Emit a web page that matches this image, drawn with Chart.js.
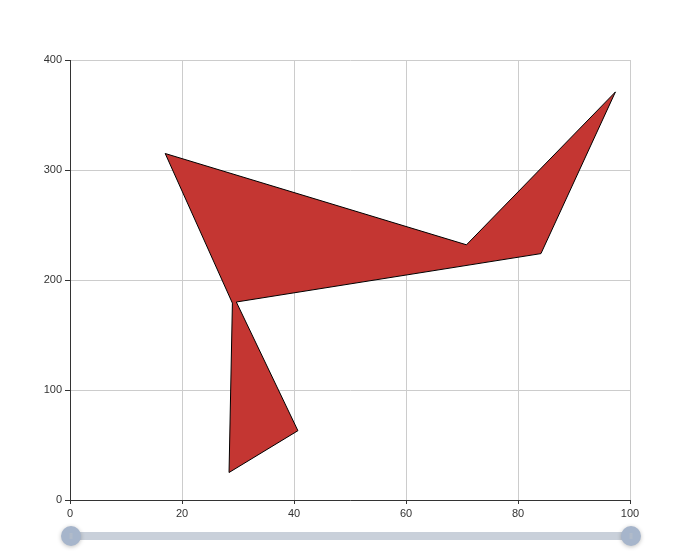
<!DOCTYPE html>
<html lang="en">
<head>
    <meta charset="UTF-8">
    <title>Polygon</title>
    <style>
        html, body { margin: 0; padding: 0; background: #fff; }
        #wrap { width: 700px; height: 560px; }
    </style>
</head>
<body>
    <div id="wrap">
        <canvas id="myChart" width="700" height="560"></canvas>
    </div>

    <script src="https://cdn.jsdelivr.net/npm/chart.js"></script>
    <script>
        // polygon vertices
        const xValues = [17, 70.8, 97.4, 84.1, 29.7, 40.7, 28.4, 29.0];
        const yValues = [315, 232, 371, 224, 180, 63, 25, 179];
        const xTicks = [0, 20, 40, 60, 80, 100];
        const yTicks = [0, 100, 200, 300, 400];

        const points = xValues.map((x, i) => ({ x: x, y: yValues[i] }));
        points.push({ x: xValues[0], y: yValues[0] }); // close the outline

        // range slider under the x axis
        const sliderPlugin = {
            id: 'slider',
            afterDraw(chart) {
                const ctx = chart.ctx;
                const xs = chart.scales.x;
                const left = xs.getPixelForValue(xs.min);
                const right = xs.getPixelForValue(xs.max);
                const y = chart.chartArea.bottom + 36;
                ctx.save();
                ctx.fillStyle = '#c9d0da';
                ctx.fillRect(left, y - 4, right - left, 8);
                [left + 1, right + 1].forEach(cx => {
                    ctx.save();
                    ctx.shadowColor = 'rgba(0,0,0,0.25)';
                    ctx.shadowBlur = 4;
                    ctx.shadowOffsetY = 1;
                    ctx.beginPath();
                    ctx.arc(cx, y, 10, 0, Math.PI * 2);
                    ctx.fillStyle = '#a6b5cb';
                    ctx.fill();
                    ctx.restore();
                    ctx.strokeStyle = 'rgba(200,200,200,0.6)';
                    ctx.lineWidth = 1;
                    ctx.beginPath();
                    for (let k = -1; k <= 1; k++) {
                        ctx.moveTo(cx - 1.5, y + k * 2);
                        ctx.lineTo(cx + 1.5, y + k * 2);
                    }
                    ctx.stroke();
                });
                ctx.restore();
            }
        };

        const ctx = document.getElementById('myChart');
        new Chart(ctx, {
            type: 'scatter',
            data: {
                datasets: [{
                    data: points,
                    showLine: true,
                    fill: 'shape',
                    backgroundColor: '#c43632',
                    borderColor: '#000',
                    borderWidth: 1,
                    pointRadius: 0,
                    tension: 0
                }]
            },
            options: {
                responsive: false,
                animation: false,
                events: [],
                layout: { padding: { left: 0, right: 70, top: 60, bottom: 40 } },
                plugins: {
                    legend: { display: false },
                    tooltip: { enabled: false }
                },
                scales: {
                    x: {
                        type: 'linear',
                        min: 0,
                        max: 100,
                        afterBuildTicks: s => { s.ticks = xTicks.map(v => ({ value: v })); },
                        afterFit: s => { s.height = 20; },
                        grid: { color: '#cccccc', tickColor: '#333', tickLength: 4 },
                        border: { color: '#333', width: 1 },
                        ticks: {
                            padding: 3,
                            color: '#333',
                            font: { family: 'Liberation Sans, Arial', size: 11 }
                        }
                    },
                    y: {
                        type: 'linear',
                        min: 0,
                        max: 400,
                        afterBuildTicks: s => { s.ticks = yTicks.map(v => ({ value: v })); },
                        afterFit: s => { s.width = 70; },
                        grid: { color: '#cccccc', tickColor: '#333', tickLength: 5 },
                        border: { color: '#333', width: 1 },
                        ticks: {
                            padding: 3,
                            color: '#333',
                            font: { family: 'Liberation Sans, Arial', size: 11 }
                        }
                    }
                }
            },
            plugins: [sliderPlugin]
        });
    </script>
</body>
</html>
